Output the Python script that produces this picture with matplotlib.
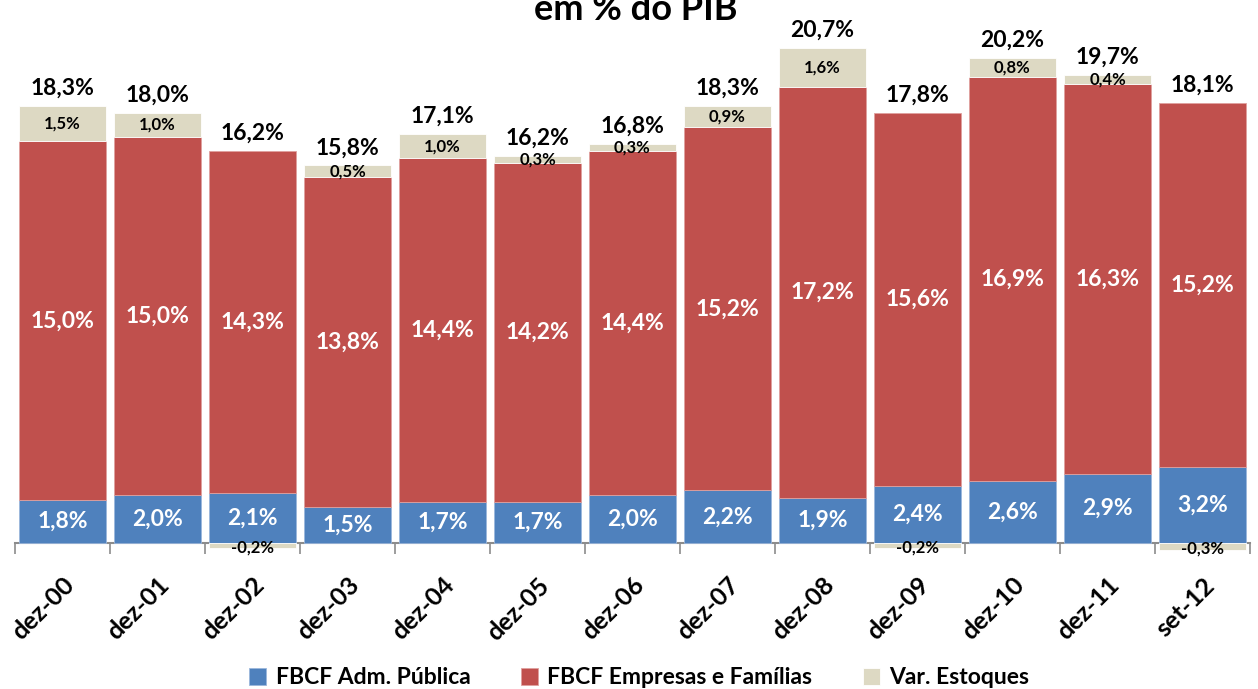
import numpy as np
import matplotlib
matplotlib.use('Agg')
import matplotlib.pyplot as plt
import matplotlib.transforms as mtransforms

categories = ['dez-00', 'dez-01', 'dez-02', 'dez-03', 'dez-04', 'dez-05', 'dez-06',
              'dez-07', 'dez-08', 'dez-09', 'dez-10', 'dez-11', 'set-12']
adm_publica = [1.8, 2.0, 2.1, 1.5, 1.7, 1.7, 2.0, 2.2, 1.9, 2.4, 2.6, 2.9, 3.2]
empresas = [15.0, 15.0, 14.3, 13.8, 14.4, 14.2, 14.4, 15.2, 17.2, 15.6, 16.9, 16.3, 15.2]
estoques = [1.5, 1.0, -0.2, 0.5, 1.0, 0.3, 0.3, 0.9, 1.6, -0.2, 0.8, 0.4, -0.3]
totais = [18.3, 18.0, 16.2, 15.8, 17.1, 16.2, 16.8, 18.3, 20.7, 17.8, 20.2, 19.7, 18.1]

plt.rcParams['font.family'] = ['Lato', 'DejaVu Sans']
plt.rcParams['font.weight'] = 'bold'

c_blue = '#4F81BD'
c_red = '#C0504D'
c_beige = '#DDD9C3'

W, H = 1258, 689
fig = plt.figure(figsize=(W / 100, H / 100), dpi=100)

# axes: zero at y=543px, ~23.9 px per unit
ymin, ymax = -0.5, 22.0
ppu = 23.9
y0 = 543
bottom_px = y0 + (0 - ymin) * ppu
top_px = y0 - ymax * ppu
left_px, right_px = 15, 1250
ax = fig.add_axes([left_px / W, 1 - bottom_px / H,
                   (right_px - left_px) / W, (bottom_px - top_px) / H])

x = np.arange(len(categories))
adm = np.array(adm_publica)
emp = np.array(empresas)
est = np.array(estoques)
w = 0.92

est_bottom = np.where(est >= 0, adm + emp, 0)
ax.bar(x, adm, w, color=c_blue, edgecolor='#9bb7dc', linewidth=0.6, label='FBCF Adm. Pública')
ax.bar(x, emp, w, bottom=adm, color=c_red, edgecolor='#e0a09e', linewidth=0.6,
       label='FBCF Empresas e Famílias')
ax.bar(x, est, w, bottom=est_bottom, color=c_beige, edgecolor='white', linewidth=0.6,
       label='Var. Estoques')

def fmt(v):
    return f'{v:.1f}%'.replace('.', ',')

for i in range(len(x)):
    ax.text(x[i], adm[i] / 2, fmt(adm[i]), ha='center', va='center',
            color='white', fontsize=16.5, fontweight='bold')
    ax.text(x[i], adm[i] + emp[i] / 2, fmt(emp[i]), ha='center', va='center',
            color='white', fontsize=16.5, fontweight='bold')
    if est[i] >= 0:
        ax.text(x[i], adm[i] + emp[i] + est[i] / 2, fmt(est[i]), ha='center', va='center',
                color='black', fontsize=12, fontweight='bold')
        top = adm[i] + emp[i] + est[i]
    else:
        ax.text(x[i], est[i] / 2 - 0.08, fmt(est[i]), ha='center', va='center',
                color='black', fontsize=12, fontweight='bold', zorder=5)
        top = adm[i] + emp[i]
    ax.text(x[i], top + 0.3, fmt(totais[i]), ha='center', va='bottom',
            color='black', fontsize=16.5, fontweight='bold')

ax.set_xlim(-0.5, len(x) - 0.5)
ax.set_ylim(ymin, ymax)
for s in ['top', 'right', 'left']:
    ax.spines[s].set_visible(False)
ax.spines['bottom'].set_position(('data', 0))
ax.spines['bottom'].set_color('#8c8c8c')
ax.spines['bottom'].set_linewidth(1.5)
ax.spines['bottom'].set_zorder(0.5)
ax.set_yticks([])
ax.set_xticks(np.arange(len(x) + 1) - 0.5, minor=True)
ax.tick_params(axis='x', which='minor', length=8, color='#8c8c8c', width=1.2)
ax.tick_params(axis='x', which='major', length=0, pad=22)
ax.set_xticks(x)
ax.set_xticklabels(categories, rotation=45, ha='right', va='center', rotation_mode='anchor',
                   fontsize=18, fontweight='bold')
shift = mtransforms.ScaledTranslation(8 / 100, -8 / 100, fig.dpi_scale_trans)
for lbl in ax.get_xticklabels():
    lbl.set_transform(lbl.get_transform() + shift)

fig.text(0.505, 1 - 20 / H, 'em % do PIB', ha='center', va='baseline',
         fontsize=26, fontweight='bold')

fig.legend(loc='center', bbox_to_anchor=(0.508, 1 - 678 / H), ncol=3, frameon=False,
           handlelength=0.75, handleheight=0.75, columnspacing=2.2,
           handletextpad=0.4, prop={'weight': 'bold', 'size': 16.5})

fig.savefig('out.png', dpi=100)
